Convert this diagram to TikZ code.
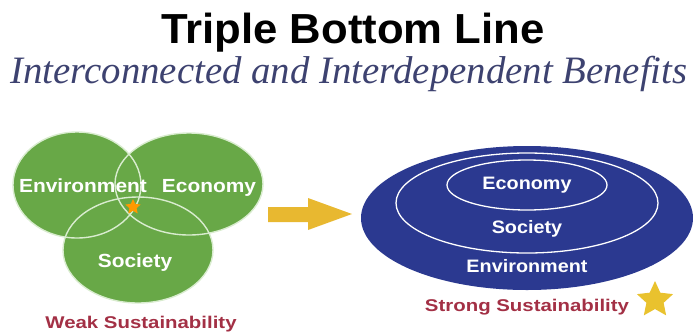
\documentclass[tikz,border=0pt]{standalone}
\usepackage{fontspec}
\usepackage{graphicx}
\setmainfont{Liberation Serif}
\newfontfamily\hsans{Liberation Sans}
\usetikzlibrary{shapes.geometric}
\definecolor{vgreen}{HTML}{68A847}
\definecolor{vline}{HTML}{D9ECCF}
\definecolor{navy}{HTML}{2B3990}
\definecolor{gold}{HTML}{E8B830}
\definecolor{stargold}{HTML}{E9C22E}
\definecolor{maroon}{HTML}{A33045}
\definecolor{subblue}{HTML}{3D4270}
\tikzset{
  venn/.style={ellipse, inner sep=0pt, fill=vgreen},
  vennline/.style={ellipse, inner sep=0pt, draw=vline, line width=1.4pt},
  ring/.style={ellipse, inner sep=0pt, draw=white, line width=1.3pt},
  lbl/.style={anchor=base, inner sep=0pt, text=white, font=\hsans\bfseries\fontsize{19}{22}\selectfont},
  rlbl/.style={anchor=base, inner sep=0pt, text=white, font=\hsans\bfseries\fontsize{18}{21}\selectfont},
  caption/.style={anchor=base, inner sep=0pt, text=maroon, font=\hsans\bfseries\fontsize{17}{20}\selectfont},
  starshape/.style={star, star points=5, star point ratio=2.1, inner sep=0pt, draw=none}
}
\begin{document}
\begin{tikzpicture}[x=1pt,y=-1pt]
\useasboundingbox (0,0) rectangle (693,333);
% title
\node[anchor=base, inner sep=0pt, font=\hsans\bfseries\fontsize{42}{48}\selectfont] (title) at (353,43) {\scalebox{1.04}[1]{Triple Bottom Line}};
\node[anchor=base, inner sep=0pt, text=subblue, font=\itshape\fontsize{38.8}{44}\selectfont] (sub) at (349,83) {Interconnected and Interdependent Benefits};
% Venn (weak sustainability)
\node[venn, minimum width=128pt, minimum height=106pt] (envF) at (77,185) {};
\node[venn, minimum width=148pt, minimum height=102pt] (ecoF) at (189,184) {};
\node[venn, minimum width=150pt, minimum height=106pt] (socF) at (138,250) {};
\node[vennline, minimum width=128pt, minimum height=106pt] (envC) at (77,185) {};
\node[vennline, minimum width=148pt, minimum height=102pt] (ecoC) at (189,184) {};
\node[vennline, minimum width=150pt, minimum height=106pt] (socC) at (138,250) {};
\node[lbl] (envL) at (83,192) {\scalebox{1.1}[1]{Environment}};
\node[lbl] (ecoL) at (209,192) {\scalebox{1.1}[1]{Economy}};
\node[lbl] (socL) at (135,267) {\scalebox{1.1}[1]{Society}};
\node[starshape, fill=orange!80!yellow, minimum size=16pt] (smallstar) at (133,207) {};
\node[caption] (weak) at (141,328) {\scalebox{1.2}[1]{Weak Sustainability}};
% arrow
\fill[gold] (268,207) -- (308,207) -- (308,198) -- (352,214) -- (308,230) -- (308,222) -- (268,222) -- cycle;
% nested (strong sustainability)
\node[ellipse, inner sep=0pt, fill=navy, minimum width=332pt, minimum height=144pt] (outer) at (527,218) {};
\node[ring, minimum width=262pt, minimum height=100pt] (middle) at (527,203) {};
\node[ring, minimum width=160pt, minimum height=50pt] (inner) at (527,185) {};
\node[rlbl] (ecoR) at (527,189) {\scalebox{1.1}[1]{Economy}};
\node[rlbl] (socR) at (527,233) {\scalebox{1.1}[1]{Society}};
\node[rlbl] (envR) at (527,272) {\scalebox{1.1}[1]{Environment}};
\node[caption] (strong) at (527,311) {\scalebox{1.2}[1]{Strong Sustainability}};
\node[starshape, fill=stargold, minimum size=38pt] (bigstar) at (655,300) {};
\end{tikzpicture}
\end{document}
